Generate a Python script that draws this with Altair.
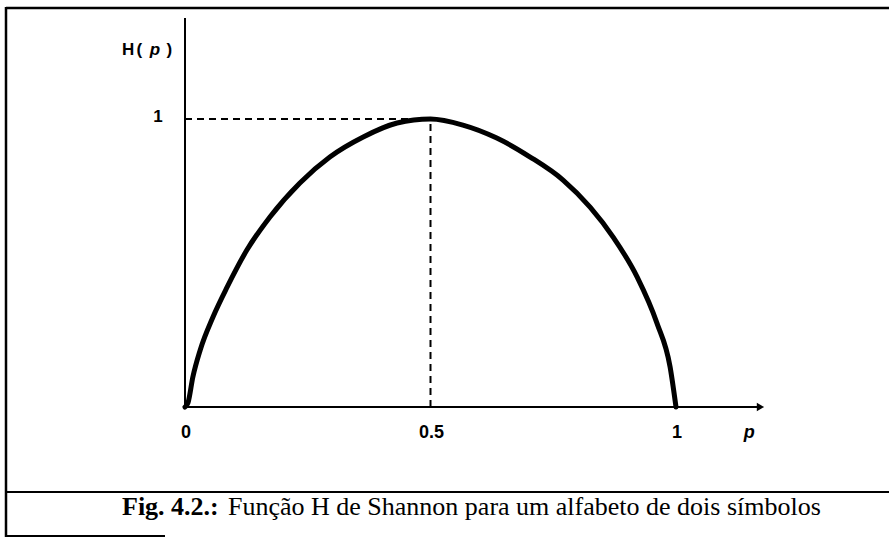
import altair as alt
import pandas as pd

# Binary entropy curve H(p), sampled points
p_vals = [0.0, 0.006, 0.016, 0.031, 0.057, 0.086, 0.126, 0.173, 0.234, 0.295,
          0.363, 0.432, 0.5, 0.566, 0.635, 0.703, 0.770, 0.825, 0.872, 0.921,
          0.961, 0.988, 1.0]
h_vals = [0.0, 0.014, 0.104, 0.198, 0.3125, 0.417, 0.545, 0.660, 0.778, 0.868,
          0.9375, 0.986, 1.0, 0.979, 0.934, 0.868, 0.788, 0.694, 0.590, 0.451,
          0.292, 0.139, 0.0]

# Axis tick labels
x_tick_values = [0.0, 0.5, 1.0]
x_tick_labels = ["0", "0.5", "1"]
y_tick_values = [1.0]
y_tick_labels = ["1"]

# Peak marker guides
peak_p = 0.5
peak_h = 1.0

caption_bold = "Fig. 4.2.:"
caption_text = "Função H de Shannon para um alfabeto de dois símbolos"

W, H = 889, 538
# pixel placement of the data frame
X0, XUNIT = 185.0, 491.0
Y0, YUNIT = 407.0, 288.0

x_dom = [-X0 / XUNIT, (W - X0) / XUNIT]
y_dom = [(Y0 - H) / YUNIT, Y0 / YUNIT]

xs = alt.Scale(domain=x_dom, range=[0, W], nice=False, zero=False)
ys = alt.Scale(domain=y_dom, range=[H, 0], nice=False, zero=False)

curve_df = pd.DataFrame({"p": p_vals, "h": h_vals})

X = lambda f: alt.X(f, type="quantitative", scale=xs, axis=None)
Y = lambda f: alt.Y(f, type="quantitative", scale=ys, axis=None)

curve = alt.Chart(curve_df).mark_line(
    color="black", strokeWidth=5, interpolate="monotone", strokeCap="round"
).encode(x=X("p"), y=Y("h"))

# axes drawn as plain lines
axes_df = pd.DataFrame({
    "x1": [0.0, 0.0], "x2": [1.17, 0.0],
    "y1": [0.0, 0.0], "y2": [0.0, 1.351],
})
axes = alt.Chart(axes_df).mark_rule(color="black", strokeWidth=2).encode(
    x=X("x1"), x2="x2", y=Y("y1"), y2="y2"
)

arrow = alt.Chart(pd.DataFrame({"x": [1.172], "y": [0.0]})).mark_point(
    shape="triangle-right", filled=True, color="black", size=70, opacity=1
).encode(x=X("x"), y=Y("y"))

guides_df = pd.DataFrame({
    "x1": [0.0, peak_p], "x2": [peak_p, peak_p],
    "y1": [peak_h, 0.0], "y2": [peak_h, peak_h],
})
guides = alt.Chart(guides_df).mark_rule(
    color="black", strokeWidth=2, strokeDash=[7, 5]
).encode(x=X("x1"), x2="x2", y=Y("y1"), y2="y2")

label_font = "Liberation Sans"
xt = alt.Chart(pd.DataFrame({"x": x_tick_values, "t": x_tick_labels,
                             "y": [-0.107] * 3})).mark_text(
    font=label_font, fontSize=18, fontWeight="bold", baseline="alphabetic", dx=1
).encode(x=X("x"), y=Y("y"), text="t:N")

yt = alt.Chart(pd.DataFrame({"x": [-0.055], "t": y_tick_labels,
                             "y": [v - 0.01 for v in y_tick_values]})).mark_text(
    font=label_font, fontSize=17, fontWeight="bold", baseline="alphabetic"
).encode(x=X("x"), y=Y("y"), text="t:N")

xlab = alt.Chart(pd.DataFrame({"x": [1.149], "y": [-0.107], "t": ["p"]})).mark_text(
    font=label_font, fontSize=18, fontWeight="bold", fontStyle="italic",
    baseline="alphabetic"
).encode(x=X("x"), y=Y("y"), text="t:N")

# H(p) title with spaced glyphs, the p in italics
ylab_df = pd.DataFrame({
    "x": [-0.116, -0.093, -0.061, -0.032],
    "y": [1.222] * 4,
    "t": ["H", "(", "p", ")"],
    "s": ["normal", "normal", "italic", "normal"],
})
ylab_n = alt.Chart(ylab_df[ylab_df.s == "normal"]).mark_text(
    font=label_font, fontSize=17, fontWeight="bold", baseline="alphabetic"
).encode(x=X("x"), y=Y("y"), text="t:N")
ylab_i = alt.Chart(ylab_df[ylab_df.s == "italic"]).mark_text(
    font=label_font, fontSize=17, fontWeight="bold", fontStyle="italic",
    baseline="alphabetic"
).encode(x=X("x"), y=Y("y"), text="t:N")

# frame around the figure and the caption strip
frame_base = alt.Chart(pd.DataFrame({"k": [0]}))
frame = alt.layer(
    frame_base.mark_rule(color="black", strokeWidth=2.5).encode(
        x=alt.value(6), x2=alt.value(6), y=alt.value(7), y2=alt.value(537)),
    frame_base.mark_rule(color="black", strokeWidth=2.5).encode(
        x=alt.value(6), x2=alt.value(889), y=alt.value(8), y2=alt.value(8)),
    frame_base.mark_rule(color="black", strokeWidth=2).encode(
        x=alt.value(6), x2=alt.value(889), y=alt.value(492), y2=alt.value(492)),
    frame_base.mark_rule(color="black", strokeWidth=2).encode(
        x=alt.value(6), x2=alt.value(165), y=alt.value(536), y2=alt.value(536)),
)

cap_font = "Liberation Serif"
cap_b = frame_base.mark_text(
    font=cap_font, fontSize=26, fontWeight="bold", align="left",
    baseline="alphabetic", color="black"
).encode(x=alt.value(122), y=alt.value(515), text=alt.value(caption_bold))
cap_r = frame_base.mark_text(
    font=cap_font, fontSize=26, align="left", baseline="alphabetic", color="black"
).encode(x=alt.value(228), y=alt.value(515), text=alt.value(caption_text))

chart = alt.layer(
    frame, guides, axes, arrow, curve, xt, yt, xlab, ylab_n, ylab_i, cap_b, cap_r
).properties(
    width=W, height=H, padding=0, background="white",
    autosize=alt.AutoSizeParams(type="none"),
).configure_view(stroke=None)

chart.save("out.html", embed_options={"renderer": "svg", "actions": False})
